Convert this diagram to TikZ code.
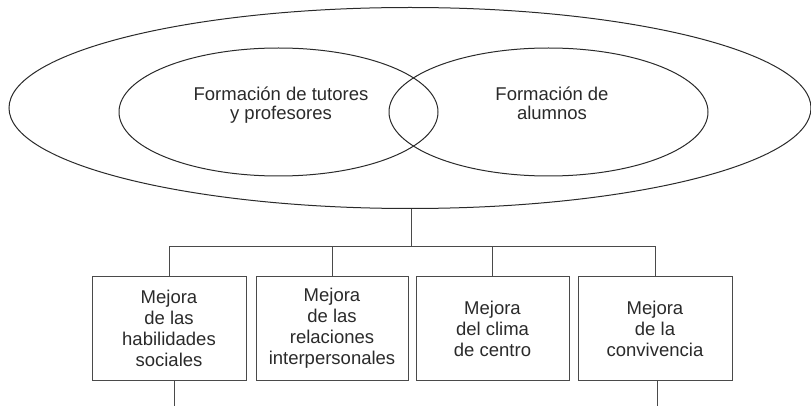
\documentclass[tikz,border=0pt]{standalone}
\usepackage{fontspec}
\setmainfont{Liberation Sans}
\usetikzlibrary{shapes.geometric}
\definecolor{ink}{HTML}{2A2A2A}
\tikzset{
  bubble/.style = {draw = ink, line width = 1pt, ellipse, inner sep = 0pt},
  bubbletext/.style = {text = ink, align = center, font = \fontsize{18.5}{18.5}\selectfont},
  goal/.style = {draw = ink!85, line width = 1pt, minimum height = 104pt, inner sep = 0pt,
    text = ink, align = center, font = \fontsize{18.5}{21}\selectfont},
  link/.style = {draw = ink!85, line width = 1pt}
}
\begin{document}
\begin{tikzpicture}[x = 1pt, y = -1pt]
    \useasboundingbox (0, 0) rectangle (811, 406);

    \node [bubble, minimum width = 802pt, minimum height = 201pt] (plan) at (410, 108) {};
    \node [bubble, minimum width = 319pt, minimum height = 128pt] (tutores) at (278.5, 112) {};
    \node [bubble, minimum width = 319pt, minimum height = 128pt] (alumnos) at (548.5, 112) {};
    \node [bubbletext] (tutoresText) at (281, 105) {Formación de tutores\\y profesores};
    \node [bubbletext] (alumnosText) at (552, 103.5) {Formación de\\alumnos};

    \coordinate (bus) at (411, 246);
    \draw [link] (plan.south -| bus) -- (bus);

    \foreach \name/\x/\w/\txt in {habil/169/154/{Mejora\\de las\\habilidades\\sociales},
        relac/332/152/{Mejora\\de las\\relaciones\\interpersonales},
        clima/492.5/153/{Mejora\\del clima\\de centro},
        convi/655/154/{Mejora\\de la\\convivencia}} {
      \node [goal, minimum width = \w pt] (\name) at (\x, 328.5) {\txt};
      \draw [link] (\name.north) |- (bus);
    }

    \coordinate (habilEnd) at (174, 406);
    \coordinate (conviEnd) at (657, 406);
    \draw [link] (habilEnd |- habil.south) -- (habilEnd);
    \draw [link] (conviEnd |- convi.south) -- (conviEnd);
  \end{tikzpicture}
\end{document}
